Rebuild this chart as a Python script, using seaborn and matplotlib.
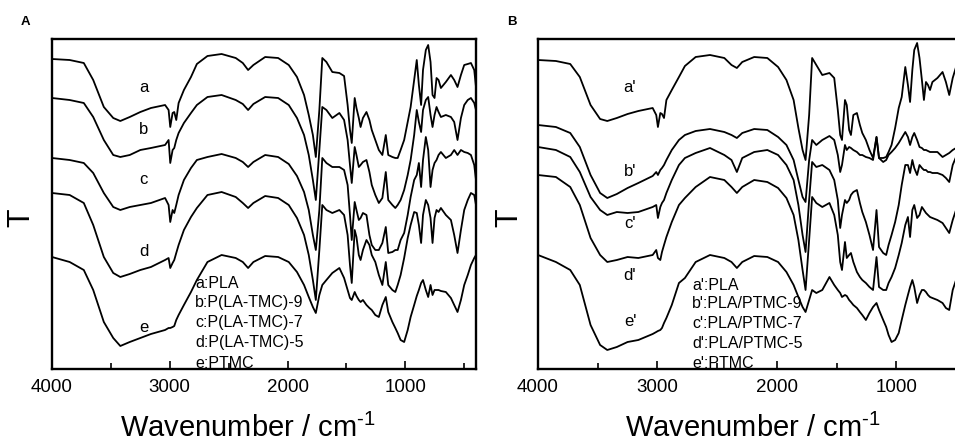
import numpy as np
import pandas as pd
import matplotlib
matplotlib.use("Agg")
import matplotlib.pyplot as plt
import seaborn as sns

# wavenumber grid (cm-1) shared by all spectra
wn = [4000, 3850, 3730, 3650, 3560, 3480, 3420, 3340, 3250, 3160,
      3040, 3010, 2996, 2976, 2962, 2945, 2925, 2880, 2820, 2770,
      2680, 2560, 2440, 2380, 2335, 2290, 2190, 2080, 1990, 1920,
      1860, 1820, 1785, 1760, 1730, 1705, 1670, 1620, 1560, 1520,
      1490, 1470, 1455, 1430, 1415, 1395, 1380, 1360, 1330, 1305,
      1285, 1255, 1225, 1195, 1166, 1145, 1110, 1085, 1065, 1040,
      1010, 980, 955, 925, 903, 885, 866, 850, 826, 806,
      786, 769, 752, 735, 718, 698, 656, 613, 585, 557,
      528, 500, 470, 443, 415, 400]

# values read as depth below the frame top (px), converted to relative T below
# panel A
a_pla = [59, 60, 63, 80, 107, 118, 121, 117, 112, 108,
         105, 110, 127, 113, 112, 120, 103, 90, 77, 64,
         56, 54, 58, 63, 70, 65, 57, 58, 65, 77,
         95, 115, 135, 157, 110, 58, 62, 72, 73, 76,
         105, 130, 143, 98, 108, 118, 127, 118, 112, 120,
         130, 140, 150, 155, 135, 155, 157, 158, 158, 150,
         140, 122, 107, 80, 60, 85, 105, 70, 50, 45,
         62, 95, 98, 78, 80, 88, 82, 75, 80, 87,
         75, 65, 64, 63, 70, 87]
b_co9 = [98, 100, 103, 117, 140, 155, 157, 155, 150, 148,
         145, 140, 163, 150, 148, 140, 133, 123, 113, 105,
         97, 95, 100, 104, 110, 104, 97, 98, 105, 118,
         135, 155, 180, 200, 150, 107, 110, 118, 113, 120,
         140, 165, 183, 147, 155, 167, 165, 162, 160, 172,
         185, 195, 203, 198, 172, 200, 205, 208, 205, 200,
         190, 175, 160, 135, 110, 122, 132, 110, 100, 97,
         115, 127, 115, 107, 112, 117, 115, 117, 122, 140,
         118, 105, 100, 98, 103, 110]
c_co7 = [158, 160, 163, 173, 193, 207, 210, 207, 205, 203,
         198, 205, 222, 210, 213, 205, 195, 180, 168, 160,
         157, 154, 158, 162, 167, 162, 155, 157, 164, 176,
         192, 210, 235, 250, 210, 158, 163, 167, 167, 170,
         185, 215, 240, 202, 210, 220, 218, 213, 215, 235,
         245, 250, 250, 243, 227, 253, 252, 250, 250, 240,
         233, 215, 197, 180, 175, 163, 187, 160, 137, 150,
         187, 170, 163, 160, 155, 152, 158, 155, 150, 155,
         150, 152, 153, 155, 165, 180]
d_co5 = [193, 195, 203, 225, 257, 273, 277, 274, 270, 267,
         260, 258, 268, 263, 260, 253, 245, 230, 217, 208,
         195, 192, 197, 203, 208, 203, 196, 198, 205, 218,
         235, 255, 280, 300, 250, 205, 210, 213, 210, 215,
         235, 265, 283, 230, 237, 255, 260, 250, 240, 245,
         255, 262, 275, 285, 262, 285, 290, 292, 285, 275,
         258, 238, 225, 212, 213, 225, 243, 215, 200, 205,
         218, 243, 218, 210, 212, 208, 215, 220, 235, 253,
         230, 210, 200, 193, 195, 205]
e_ptmc = [257, 262, 270, 290, 322, 338, 346, 342, 338, 334,
          330, 328, 328, 327, 326, 320, 315, 305, 292, 280,
          262, 255, 258, 262, 268, 262, 256, 257, 262, 272,
          285, 297, 307, 313, 295, 285, 280, 273, 268, 278,
          290, 298, 300, 292, 296, 300, 302, 300, 305, 308,
          310, 315, 317, 305, 297, 312, 322, 328, 333, 340,
          342, 330, 317, 305, 296, 290, 283, 280, 290, 297,
          285, 295, 290, 290, 290, 291, 292, 298, 305, 312,
          300, 285, 275, 265, 258, 255]

# panel B
a2_pla = [60, 61, 64, 77, 105, 119, 121, 118, 114, 111,
          108, 115, 127, 113, 114, 118, 100, 90, 77, 66,
          57, 55, 58, 65, 68, 62, 57, 58, 67, 80,
          100, 128, 150, 160, 115, 58, 65, 75, 73, 78,
          110, 135, 140, 100, 105, 130, 135, 115, 113, 125,
          133, 140, 150, 158, 137, 158, 158, 157, 152, 145,
          128, 108, 97, 67, 85, 102, 70, 50, 43, 58,
          80, 100, 82, 85, 90, 82, 78, 72, 82, 95,
          78, 67, 65, 63, 65, 75]
b2_bl9 = [125, 127, 133, 147, 175, 193, 198, 194, 188, 183,
          176, 172, 175, 170, 168, 165, 160, 150, 140, 135,
          131, 129, 132, 135, 138, 133, 129, 130, 137, 145,
          160, 180, 197, 202, 160, 140, 145, 140, 136, 140,
          155, 172, 165, 145, 150, 147, 148, 150, 152, 155,
          155, 157, 158, 160, 137, 158, 162, 160, 155, 152,
          148, 143, 138, 132, 137, 145, 137, 133, 140, 147,
          148, 150, 150, 151, 152, 152, 152, 157, 155, 153,
          150, 148, 147, 145, 145, 148]
c2_bl7 = [147, 150, 157, 172, 197, 210, 215, 212, 213, 212,
          207, 205, 218, 207, 203, 200, 193, 180, 165, 158,
          153, 148, 155, 160, 172, 158, 152, 150, 155, 165,
          180, 205, 235, 252, 200, 162, 167, 165, 170, 180,
          200, 228, 215, 200, 203, 200, 195, 192, 190, 203,
          212, 222, 235, 250, 210, 247, 253, 255, 245, 235,
          222, 205, 185, 165, 165, 173, 160, 168, 175, 165,
          168, 170, 170, 172, 172, 173, 173, 175, 178, 182,
          165, 157, 155, 153, 153, 158]
d2_bl5 = [175, 177, 187, 205, 238, 255, 262, 260, 257, 258,
          255, 250, 258, 260, 252, 245, 237, 222, 205, 198,
          187, 177, 180, 187, 193, 187, 180, 182, 188, 198,
          215, 240, 270, 290, 240, 197, 203, 207, 203, 215,
          235, 262, 270, 242, 258, 255, 253, 262, 272, 277,
          280, 283, 287, 290, 257, 287, 290, 290, 283, 277,
          268, 255, 243, 225, 217, 237, 210, 205, 218, 215,
          207, 210, 213, 215, 217, 218, 220, 223, 228, 233,
          220, 210, 200, 193, 190, 190]
e2_ptmc = [255, 262, 270, 285, 325, 345, 350, 347, 342, 340,
           334, 332, 331, 330, 328, 323, 318, 305, 283, 278,
           262, 255, 258, 262, 268, 262, 256, 257, 262, 272,
           285, 297, 307, 312, 300, 290, 293, 290, 277, 285,
           290, 293, 297, 295, 296, 300, 302, 305, 308, 312,
           315, 320, 313, 307, 303, 310, 320, 327, 335, 342,
           340, 333, 320, 305, 295, 287, 280, 287, 303, 295,
           290, 290, 292, 295, 297, 298, 300, 303, 308, 310,
           290, 280, 270, 262, 258, 255]

labels_a = ["a", "b", "c", "d", "e"]
legend_a = ["a:PLA", "b:P(LA-TMC)-9", "c:P(LA-TMC)-7", "d:P(LA-TMC)-5", "e:PTMC"]
labels_b = ["a'", "b'", "c'", "d'", "e'"]
legend_b = ["a':PLA", "b':PLA/PTMC-9", "c':PLA/PTMC-7", "d':PLA/PTMC-5", "e':PTMC"]

sns.set_theme(style="white")
plt.rcParams["font.family"] = ["Liberation Sans", "DejaVu Sans"]
plt.rcParams["mathtext.fontset"] = "custom"
plt.rcParams["mathtext.rm"] = "Liberation Sans"
plt.rcParams["axes.unicode_minus"] = False
plt.rcParams["text.color"] = "black"
plt.rcParams["axes.labelcolor"] = "black"
plt.rcParams["xtick.color"] = "black"

TOP = 369  # frame bottom in px, used to turn depth into T


def long_df(curves, names):
    rows = []
    for name, vals in zip(names, curves):
        rows.append(pd.DataFrame({"wn": wn, "T": TOP - np.array(vals), "sample": name}))
    return pd.concat(rows, ignore_index=True)


df_a = long_df([a_pla, b_co9, c_co7, d_co5, e_ptmc], labels_a)
df_b = long_df([a2_pla, b2_bl9, c2_bl7, d2_bl5, e2_ptmc], labels_b)

fig = plt.figure(figsize=(9.55, 4.43), dpi=100)
ax1 = fig.add_axes([52 / 955, 74 / 443, 424 / 955, 330 / 443])
ax2 = fig.add_axes([538 / 955, 74 / 443, 430 / 955, 330 / 443])

# plain hyphen (U+2010) so the exponent is not turned into a long minus
xlab = "Wavenumber / cm$^{\\mathregular{\u20101}}$"

for ax, df in [(ax1, df_a), (ax2, df_b)]:
    sns.lineplot(data=df, x="wn", y="T", units="sample", estimator=None,
                 sort=False, color="black", linewidth=1.3, ax=ax)
    ax.set_xlim(4000, 400)
    ax.set_ylim(0, 330)
    ax.set_yticks([])
    ax.set_xticks([4000, 3000, 2000, 1000])
    ax.set_xticks([3500, 2500, 1500, 500], minor=True)
    ax.tick_params(axis="x", which="both", direction="in", bottom=True, top=False,
                   labelsize=13.5, pad=7, color="black", width=1.2)
    ax.tick_params(axis="x", which="major", length=6)
    ax.tick_params(axis="x", which="minor", length=4)
    for s in ax.spines.values():
        s.set_color("black")
        s.set_linewidth(1.7)
    ax.set_ylabel("T", fontsize=22, rotation=90, ha="center", va="center")
    ax.set_xlabel(xlab, fontsize=21, va="baseline")

ax1.yaxis.set_label_coords(-0.073, 0.46)
ax2.yaxis.set_label_coords(-0.067, 0.46)
ax1.xaxis.set_label_coords(0.462, -0.205)
ax2.xaxis.set_label_coords(0.5, -0.205)

# curve letters
for lab, t in zip(labels_a, [282, 240, 189, 117, 41]):
    ax1.text(3222, t, lab, fontsize=12, ha="center", va="center")
for lab, t in zip(labels_b, [282, 197, 146, 94, 47]):
    ax2.text(3230, t, lab, fontsize=12, ha="center", va="center")

# sample key
for txt, t in zip(legend_a, [86, 66, 46, 26, 6]):
    ax1.text(2783, t, txt, fontsize=11.5, ha="left", va="center")
for txt, t in zip(legend_b, [83, 65, 46, 26, 6]):
    ax2.text(2711, t, txt, fontsize=11.5, ha="left", va="center")

fig.text(25 / 955, 1 - 22 / 443, "A", fontsize=9.5, fontweight="bold", ha="center", va="center")
fig.text(512 / 955, 1 - 22 / 443, "B", fontsize=9.5, fontweight="bold", ha="center", va="center")

fig.savefig("out.png", dpi=100)
